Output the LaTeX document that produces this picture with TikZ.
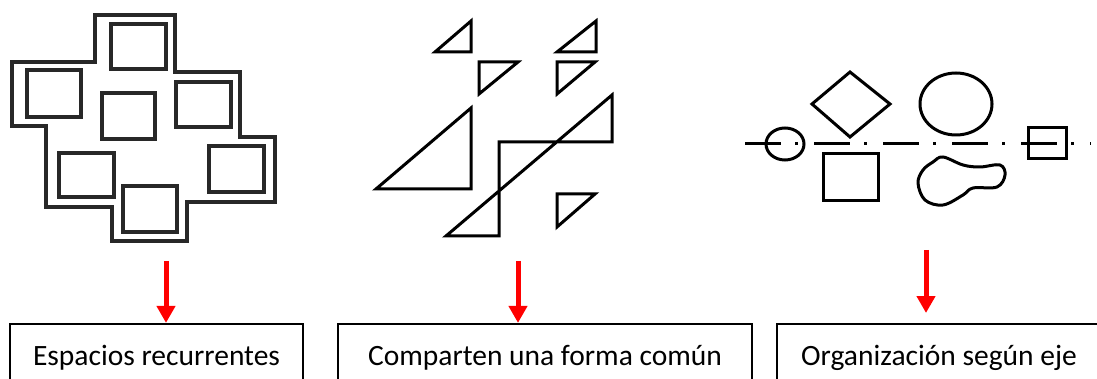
\documentclass[tikz,border=0pt]{standalone}
\usepackage{fontspec}
\setmainfont{Carlito}
\usetikzlibrary{arrows.meta,positioning}
\definecolor{flechared}{RGB}{255,0,0}
\definecolor{murogray}{RGB}{40,40,40}

\begin{document}
\begin{tikzpicture}[
  x=1pt, y=-1pt,
  muro/.style={draw=murogray, line width=3.4pt, line join=miter},
  trazo/.style={draw=black, line width=3pt, line join=miter},
  caja/.style={rectangle, draw=black, line width=2.2pt, minimum height=68pt,
               text height=20pt, text depth=6pt, inner sep=0pt,
               font=\fontsize{29.5}{34}\selectfont},
  flecha/.style={-{Triangle[length=17pt,width=18pt]}, line width=5pt, flechared}
]
\useasboundingbox (0,0) rectangle (1097,379);
\clip (0,0) rectangle (1097,379);

% espacios recurrentes
\draw[muro] (95,15) -- (175,15) -- (175,72) -- (240,72) -- (240,137) -- (275,137)
  -- (275,202) -- (187,202) -- (187,241) -- (112,241) -- (112,207) -- (46,207)
  -- (46,126) -- (12,126) -- (12,62) -- (95,62) -- cycle;
\foreach \xa/\ya/\xb/\yb in {111/24/166/69, 27/70/81/117, 102/93/155/139,
    176/82/231/127, 59/153/114/197, 209/146/264/192, 123/186/177/232}
  \draw[muro] (\xa,\ya) rectangle (\xb,\yb);

% forma comun
\draw[trazo] (435,52) -- (471,52) -- (471,21) -- cycle;
\draw[trazo] (479,62) -- (518,62) -- (479,94) -- cycle;
\draw[trazo] (557,52) -- (596,52) -- (596,21) -- cycle;
\draw[trazo] (557,62) -- (595,62) -- (557,94) -- cycle;
\draw[trazo] (376,189) -- (471,189) -- (471,108) -- cycle;
\draw[trazo] (446,236) -- (612,95) -- (612,142) -- (499,142) -- (499,236) -- cycle;
\draw[trazo] (557,194) -- (595,194) -- (557,227) -- cycle;

% organizacion segun eje
\draw[trazo, line cap=butt, dash pattern=on 36pt off 14pt on 3pt off 16pt]
  (745,144) -- (1091,144);
\draw[trazo] (785,144) ellipse [x radius=19pt, y radius=16pt];
\draw[trazo] (850,72) -- (890,104) -- (850,137) -- (812,104) -- cycle;
\draw[trazo] (823,154) rectangle (878,201);
\draw[trazo] (956,104) ellipse [x radius=36pt, y radius=31pt];
\draw[trazo] plot[smooth cycle, tension=0.6] coordinates {(943,157) (963,165)
  (980,167) (1000,165) (1005,175) (997,187) (973,188) (963,195) (943,205)
  (925,200) (918,183) (923,170) (933,162)};
\draw[trazo] (1028,128) rectangle (1066,159);

\node[caja, minimum width=293pt] (espacios) at (156.5,358) {Espacios recurrentes};
\node[caja, minimum width=414pt] (forma) at (545,358) {Comparten una forma común};
\node[caja, minimum width=324pt] (eje) at (939,358) {Organización según eje};

\coordinate (f1) at (166,261);
\coordinate (f2) at (518,261);
\coordinate (f3) at (926,250);
\coordinate (f3b) at (926,313);
\draw[flecha] (f1) -- (f1 |- espacios.north);
\draw[flecha] (f2) -- (f2 |- forma.north);
\draw[flecha] (f3) -- (f3b);
\end{tikzpicture}
\end{document}
